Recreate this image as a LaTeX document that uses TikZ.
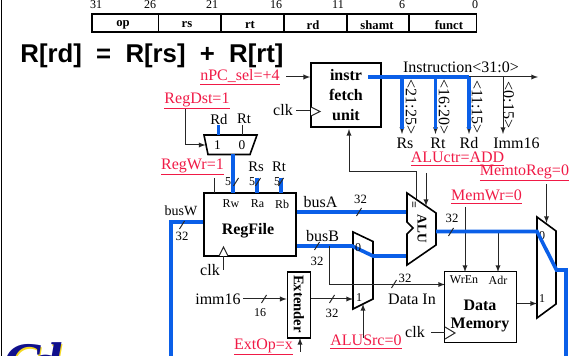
\documentclass[tikz,border=0pt]{standalone}
\usepackage{fontspec}
\setmainfont{Liberation Serif}
\newfontfamily\titlefont{Liberation Sans}
\usepackage{xcolor}
\usetikzlibrary{positioning}
\definecolor{ctlred}{HTML}{F01A46}
\definecolor{busblue}{HTML}{0A5FE8}
\definecolor{logonavy}{HTML}{10108C}
\definecolor{logogold}{HTML}{F4D820}
\tikzset{%
  txt/.style={inner sep=0pt,font=\fontsize{12}{12}\selectfont},
  tiny/.style={inner sep=0pt,font=\fontsize{9}{9}\selectfont},
  ctl/.style={inner sep=0pt,text=ctlred,font=\fontsize{12}{12}\selectfont},
  bfield/.style={inner sep=0pt,font=\fontsize{9.5}{9.5}\bfseries\selectfont},
  block/.style={draw,line width=1.2pt,inner sep=0pt,align=center,font=\fontsize{12}{15}\bfseries\selectfont},
  wire/.style={line width=.75pt,black!85},
  bus/.style={line width=2.7pt,busblue},
  shell/.style={draw,line width=1.2pt,fill=white,line join=miter},
  crest/.style={anchor=base west,inner sep=0pt,font=\fontsize{42}{42}\bfseries\itshape\selectfont}
}

\begin{document}
\begin{tikzpicture}[x=.75pt,y=-.75pt,>=latex]
  \useasboundingbox (0,0) rectangle (579,356);
  \draw[line width=.75pt] (1.5,0) -- (1.5,356);

  % logo
  \node[crest,text=logogold] (logob) at (4.5,383) {C\kern-.2em a\kern-.2em l};
  \node[crest,text=logonavy] (logo) at (3,382) {C\kern-.2em a\kern-.2em l};

  % instruction format
  \draw[line width=1.2pt] (92,14) rectangle (476.5,32);
  \foreach \px in {158.5,221,284,347,409}
    \draw[line width=1.2pt] (\px,14) -- (\px,32);
  \foreach \px/\lab in {96/31,150/26,212/21,276/16,338/11,402/6,475/0}
    \node[tiny] (bit\lab) at (\px,5) {\lab};
  \foreach \px/\lab in {123/op,187/rs,250/rt,313/rd,377/shamt,449/funct}
    \node[bfield] (fld\lab) at (\px,25) {\lab};

  \node[inner sep=0pt,font=\titlefont\fontsize{19.3}{19.3}\bfseries\selectfont] (title) at (152,56) {R[rd]\ \ =\ \ R[rs]\ \ +\ \ R[rt]};

  % instruction fetch
  \node[block,minimum width=70pt*.75,minimum height=64pt*.75] (instr) at (346,95) {instr\\fetch\\unit};
  \node[ctl] (npc) at (240,77) {\underline{nPC\_sel=+4}};
  \node[txt] (clka) at (283,110) {clk};
  \coordinate (npcout) at (286,77);
  \coordinate (clkaout) at (296,111);
  \draw[wire,->] (npcout) -- (npcout -| instr.west);
  \draw[wire] (clkaout) -- (clkaout -| instr.west);
  \draw[wire,fill=white] (311,107) -- (320,111.5) -- (311,116);

  \node[txt] (instrlab) at (461,67) {Instruction<31:0>};
  \coordinate (ibus) at (368,77);
  \coordinate (ibend) at (469,77);
  \coordinate (iend) at (538,77);
  \draw[wire,->] (ibend) -- (iend);
  \foreach \px/\lab/\tag/\ext in {402/Rs/{<21:25>}/411,435.5/Rt/{<16:20>}/444,469/Rd/{<11:15>}/477}{
    \coordinate (tap\lab) at (\px,77);
    \coordinate (tip\lab) at (\px,129);
    \node[txt,rotate=-90] (tag\lab) at (\ext,107) {\tag};
    \draw[wire,->] (tip\lab) -- ++(0,5);
    \draw[bus] (tap\lab) -- (tip\lab);
  }
  \draw[bus] (ibus) -- (ibend);
  \coordinate (tapImm) at (503,77);
  \coordinate (tipImm) at (503,134);
  \draw[wire,->] (tapImm) -- (tipImm);
  \node[txt,rotate=-90] (tagImm) at (508.5,105) {<0:15>};
  \foreach \px/\lab in {405/Rs,438/Rt,469/Rd,516.5/Imm16}
    \node[txt] (out\lab) at (\px,143) {\lab};

  % register destination mux
  \node[ctl] (regdst) at (197,101) {\underline{RegDst=1}};
  \draw[shell,fill=none] (204,135) -- (257,135) -- (250,154.5) -- (208,154.5) -- cycle;
  \node[tiny,font=\fontsize{10}{10}\selectfont] (dstone) at (217.5,145) {1};
  \node[tiny,font=\fontsize{10}{10}\selectfont] (dstzero) at (242,145) {0};
  \node[txt,font=\fontsize{11}{11}\selectfont] (dstrd) at (219,119) {Rd};
  \node[txt,font=\fontsize{11}{11}\selectfont] (dstrt) at (244,119) {Rt};
  \coordinate (dstin) at (205.5,145);
  \draw[wire,->] (185,109) |- (dstin);
  \draw[bus] (218.5,125) -- (218.5,135);
  \draw[wire] (242.5,125) -- (242.5,135);

  % register file
  \node[ctl] (regwr) at (192.5,167) {\underline{RegWr=1}};
  \node[block,line width=1.6pt,minimum width=92pt*.75,minimum height=63pt*.75] (regfile) at (250,224.5) {};
  \node[inner sep=0pt,font=\fontsize{12}{12}\bfseries\selectfont] (regfilelab) at (248,231) {RegFile};
  \foreach \px/\lab in {231/Rw,257.5/Ra,282/Rb}
    \node[tiny] (port\lab) at (\px,204) {\lab};
  \node[txt,font=\fontsize{11}{11}\selectfont] (rslab) at (256,167) {Rs};
  \node[txt,font=\fontsize{11}{11}\selectfont] (rtlab) at (279,167) {Rt};
  \draw[wire] (214,178) -- (214,193);
  \draw[bus] (233,154.5) -- (233,193);
  \draw[bus] (257,178) -- (257,193);
  \draw[bus] (281,178) -- (281,193);
  \foreach \px/\name in {228/fa,252/fb,277/fc}
    \node[tiny] (five\name) at (\px,182) {5};
  \draw[wire,fill=white] (219,256) -- (223.5,247) -- (228,256);
  \coordinate (clkbout) at (223.5,270);
  \draw[wire] (clkbout) -- (223.5,256);
  \node[txt] (clkb) at (210,270) {clk};
  \node[inner sep=0pt,font=\fontsize{10.5}{10.5}\selectfont] (busw) at (181,211) {busW};
  \coordinate (wcorner) at (171,222);
  \coordinate (wbottom) at (566,360);
  \draw[bus,line join=miter] (wcorner -| regfile.west) -- (wcorner) -- (171,360);

  % extender
  \node[txt] (imm) at (218,299) {imm16};
  \node[block,minimum width=23pt*.75,minimum height=66pt*.75] (ext) at (299,305) {};
  \node[rotate=-90,inner sep=0pt,font=\fontsize{11}{11}\bfseries\selectfont] (extlab) at (299,304) {Extender};
  \coordinate (immin) at (243,299);
  \draw[wire,->] (immin) -- (immin -| ext.west);
  \node[ctl] (extop) at (263.5,347) {\underline{ExtOp=x}};
  \draw[wire,->] (300,352) -- (300,338);

  % ALU source mux
  \draw[shell,fill=none] (353,232) -- (373,241.5) -- (373,299) -- (353,309) -- cycle;
  \coordinate (busa) at (407,212);
  \coordinate (busb) at (352,246);
  \coordinate (busbb) at (373,256);
  \coordinate (alubin) at (407,256);
  \draw[bus] (busa -| regfile.east) -- (busa);
  \draw[bus] (busb -| regfile.east) -- (busb) -- (busbb) -- (alubin);
  \node[txt] (busalab) at (320.5,202) {busA};
  \node[txt] (busblab) at (322.5,236) {busB};
  \node[tiny] (srczero) at (358,248) {0};
  \node[tiny] (srcone) at (359,298) {1};
  \coordinate (srcin) at (353,299);
  \draw[wire,->] (srcin -| ext.east) -- (srcin);
  \node[ctl] (alusrc) at (366,342) {\underline{ALUSrc=0}};
  \draw[wire,->] (363,338) -- (363,304);

  % data in
  \coordinate (dinbend) at (329.5,284.5);
  \draw[wire,->] (329.5,246) -- (dinbend) -- (445,284.5);
  \node[txt] (dinlab) at (412,299) {Data In};

  % ALU
  \draw[shell] (407,193) -- (436,213) -- (436,245) -- (407,265) -- (407,234) -- (413,228) -- (407,222) -- cycle;
  \node[rotate=-90,inner sep=0pt,font=\fontsize{10}{10}\bfseries\selectfont] (alulab) at (422,229) {ALU};
  \node[rotate=-90,inner sep=0pt,font=\fontsize{9}{9}\bfseries\selectfont] (aluop) at (413,205) {=};
  \node[ctl] (aluctr) at (457.5,159) {\underline{ALUctr=ADD}};
  \draw[wire,->] (349,172) -- (349,129);
  \draw[wire] (349,172) -- (416.5,172) -- (416.5,199);
  \draw[wire,->] (426,173) -- (426,206);

  % memory
  \node[block,minimum width=72pt*.75,minimum height=71pt*.75] (mem) at (480.5,307) {};
  \node[tiny] (wren) at (464,280) {WrEn};
  \node[tiny] (adr) at (498,280) {Adr};
  \node[inner sep=0pt,align=center,font=\fontsize{12}{14}\bfseries\selectfont] (memlab) at (480,316) {Data\\Memory};
  \node[ctl] (memwr) at (486.5,197) {\underline{MemWr=0}};
  \node[txt] (clkc) at (415,332) {clk};
  \draw[wire] (431,333) -- (445,333);
  \draw[wire,fill=white] (445,327) -- (455,333) -- (445,339);
  \draw[wire,->] (465,207) -- (465,272);
  \draw[wire,->] (498,232) -- (498,272);

  % write back mux
  \node[ctl] (memtoreg) at (524.5,173) {\underline{MemtoReg=0}};
  \draw[shell,fill=none] (537,217) -- (556,231) -- (556,304) -- (537,318) -- cycle;
  \node[tiny] (wbzero) at (542,236) {0};
  \node[tiny] (wbone) at (542,299) {1};
  \draw[wire,->] (546.5,184) -- (546.5,223);
  \coordinate (memout) at (537,303.5);
  \draw[wire,->] (memout -| mem.east) -- (memout);
  \draw[bus,line join=miter] (436,231.5) -- (537,231.5) -- (556.5,270) -- (566,270) -- (wbottom);

  % bus widths
  \foreach \px/\py in {236/182,258/182,281/182,182/225,264/299,359/212,317/246,332/299,394/284,451/232}
    \draw[wire] (\px-2.5,\py+4) -- (\px+2.5,\py-4);
  \foreach \px/\py/\lab in {182/236/a,360.5/199/b,317/261/c,332/313/d,405/278/e,452/218/f}
    \node[tiny,font=\fontsize{9.5}{9.5}\selectfont] (width\lab) at (\px,\py) {32};
  \node[tiny] (widthg) at (260,313) {16};
\end{tikzpicture}
\end{document}
